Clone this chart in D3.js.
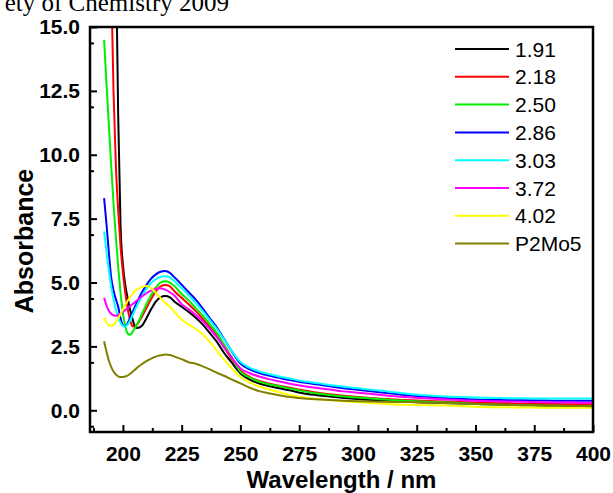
<!DOCTYPE html>
<head>
    <meta charset="utf-8" />
    <script src="https://d3js.org/d3.v7.min.js"></script>
    <style>
        body { margin: 0; background: #fff; }
        text { font-family: "Liberation Sans", Arial, sans-serif; }
    </style>
</head>
<body>
<script>
    var width = 613, height = 493;
    var margin = {top: 27, right: 20, bottom: 61, left: 90};

    // wavelength grid (nm)
    var wavelength = [192,193,194,195,196,197,198,199,200,201,202,203,204,205,206,208,210,212,214,216,218,220,222,225,228,231,234,237,240,243,246,250,254,258,262,266,271,276,282,288,294,300,310,320,330,340,350,360,370,380,390,400];

    // absorbance per sample
    var abs191 = [40,35,30,25,21,18,11.5,7.2,5.7,4.9,4.4,3.95,3.6,3.3,3.22,3.3,3.6,3.95,4.25,4.42,4.47,4.42,4.25,4.05,3.85,3.62,3.35,3.02,2.68,2.25,1.9,1.44,1.2,1.05,0.95,0.87,0.78,0.68,0.6,0.54,0.48,0.44,0.38,0.34,0.3,0.28,0.25,0.23,0.22,0.2,0.19,0.18];
    var abs218 = [35,28,22,17,12.5,9.6,7.8,6.4,5.4,4.6,4.0,3.55,3.3,3.27,3.35,3.65,4.0,4.35,4.65,4.85,4.9,4.85,4.65,4.4,4.15,3.88,3.58,3.25,2.9,2.47,2.05,1.55,1.3,1.15,1.05,0.97,0.88,0.79,0.7,0.63,0.57,0.52,0.45,0.4,0.36,0.33,0.3,0.28,0.26,0.25,0.24,0.23];
    var abs250 = [14.5,12.8,11.2,9.6,8.1,6.8,5.6,4.6,3.8,3.3,3.0,2.96,3.05,3.2,3.35,3.75,4.15,4.5,4.8,5.0,5.05,5.0,4.85,4.55,4.3,4.0,3.7,3.36,3.02,2.58,2.12,1.5,1.28,1.12,1.02,0.95,0.85,0.76,0.67,0.6,0.54,0.5,0.43,0.37,0.33,0.3,0.25,0.22,0.2,0.18,0.17,0.16];
    var abs286 = [8.3,7.3,6.2,5.2,4.7,4.35,4.05,3.6,3.33,3.28,3.4,3.6,3.82,4.03,4.23,4.6,4.9,5.15,5.32,5.42,5.45,5.38,5.2,4.92,4.62,4.33,3.98,3.6,3.24,2.8,2.35,1.83,1.6,1.46,1.36,1.28,1.18,1.1,1.02,0.94,0.86,0.8,0.7,0.6,0.52,0.46,0.42,0.4,0.39,0.38,0.37,0.37];
    var abs303 = [7.0,6.2,5.5,4.85,4.35,3.95,3.65,3.42,3.3,3.27,3.35,3.5,3.7,3.9,4.1,4.45,4.75,4.98,5.13,5.22,5.25,5.2,5.05,4.78,4.5,4.2,3.88,3.53,3.18,2.78,2.36,1.89,1.66,1.52,1.42,1.33,1.24,1.15,1.07,0.99,0.92,0.86,0.76,0.66,0.58,0.53,0.5,0.48,0.47,0.46,0.46,0.46];
    var abs372 = [4.4,4.1,3.9,3.78,3.72,3.7,3.72,3.78,3.85,3.93,4.0,4.08,4.15,4.22,4.3,4.45,4.58,4.68,4.76,4.78,4.72,4.62,4.48,4.15,3.95,3.73,3.48,3.18,2.85,2.48,2.1,1.64,1.45,1.32,1.22,1.14,1.04,0.96,0.88,0.81,0.74,0.69,0.6,0.52,0.46,0.41,0.37,0.35,0.33,0.31,0.3,0.29];
    var abs402 = [3.62,3.45,3.33,3.3,3.35,3.45,3.6,3.77,3.95,4.12,4.28,4.42,4.55,4.65,4.73,4.82,4.86,4.78,4.6,4.4,4.2,4.05,3.85,3.55,3.35,3.18,2.97,2.68,2.33,1.98,1.68,1.3,1.08,0.93,0.82,0.72,0.6,0.52,0.45,0.4,0.35,0.31,0.26,0.22,0.2,0.18,0.14,0.12,0.11,0.1,0.1,0.1];
    var absP2Mo5 = [2.7,2.3,1.95,1.7,1.52,1.4,1.33,1.3,1.3,1.32,1.36,1.42,1.5,1.58,1.66,1.8,1.92,2.02,2.1,2.15,2.18,2.16,2.1,2.0,1.88,1.82,1.72,1.6,1.47,1.35,1.22,1.05,0.88,0.75,0.67,0.6,0.52,0.47,0.43,0.4,0.37,0.35,0.33,0.32,0.3,0.28,0.25,0.22,0.2,0.18,0.17,0.16];

    var names = ["1.91","2.18","2.50","2.86","3.03","3.72","4.02","P2Mo5"];
    var colors = ["#000000","#ff0000","#00ee00","#0000ff","#00ffff","#ff00ff","#ffff00","#808000"];
    var values = [abs191, abs218, abs250, abs286, abs303, abs372, abs402, absP2Mo5];

    var xTicks = [200,225,250,275,300,325,350,375,400];
    var yTicks = [0,2.5,5,7.5,10,12.5,15];

    var svg = d3.select("body").append("svg")
        .attr("width", width)
        .attr("height", height);

    // bit of the page header that got cropped in (cut at the top like the scan)
    svg.append("text")
        .attr("x", 229).attr("y", 11)
        .attr("text-anchor", "end")
        .style("font-family", "'Liberation Serif', 'Times New Roman', serif")
        .style("font-size", "25px")
        .text("ety of Chemistry 2009");

    var x = d3.scaleLinear().domain([186, 400]).range([margin.left, width - margin.right]);
    var y = d3.scaleLinear().domain([-0.85, 15]).range([height - margin.bottom, margin.top]);

    svg.append("clipPath").attr("id", "plotclip")
        .append("rect")
        .attr("x", x(186)).attr("y", y(15))
        .attr("width", x(400) - x(186)).attr("height", y(-0.85) - y(15));

    var line = d3.line()
        .x(function(d) { return x(d[0]); })
        .y(function(d) { return y(d[1]); })
        .curve(d3.curveMonotoneX);

    var g = svg.append("g").attr("clip-path", "url(#plotclip)");
    values.forEach(function(v, i) {
        var pts = wavelength.map(function(w, j) { return [w, v[j]]; });
        g.append("path")
            .attr("d", line(pts))
            .attr("fill", "none")
            .attr("stroke", colors[i])
            .attr("stroke-width", 2);
    });

    // axes: ticks pointing inward
    var xAxis = d3.axisBottom(x).tickValues(xTicks).tickSize(-7).tickPadding(14).tickFormat(d3.format("d"));
    var xMinor = d3.axisBottom(x).tickValues(d3.range(187.5, 400, 25)).tickSize(-4).tickFormat("");
    var yAxis = d3.axisLeft(y).tickValues(yTicks).tickSize(-7).tickPadding(10).tickFormat(d3.format(".1f"));
    var yMinor = d3.axisLeft(y).tickValues(d3.range(-0.625, 15, 2.5)).tickSize(-4).tickFormat("");

    [xAxis, xMinor].forEach(function(a) {
        svg.append("g").attr("class", "axis")
            .attr("transform", "translate(0," + y(-0.85) + ")")
            .call(a);
    });
    [yAxis, yMinor].forEach(function(a) {
        svg.append("g").attr("class", "axis")
            .attr("transform", "translate(" + x(186) + ",0)")
            .call(a);
    });
    svg.selectAll(".axis .domain").remove();
    svg.selectAll(".axis line").attr("stroke", "#000").attr("stroke-width", 2);
    svg.selectAll(".axis text")
        .attr("fill", "#000")
        .style("font-size", "21px")
        .style("font-weight", "bold");

    // frame
    svg.append("rect")
        .attr("x", x(186)).attr("y", y(15))
        .attr("width", x(400) - x(186)).attr("height", y(-0.85) - y(15))
        .attr("fill", "none").attr("stroke", "#000").attr("stroke-width", 2.5);

    svg.append("text")
        .attr("x", (x(186) + x(400)) / 2).attr("y", 488)
        .attr("text-anchor", "middle")
        .style("font-size", "24px").style("font-weight", "bold")
        .text("Wavelength / nm");

    svg.append("text")
        .attr("transform", "translate(33,241) rotate(-90)")
        .attr("text-anchor", "middle")
        .style("font-size", "25px").style("font-weight", "bold")
        .text("Absorbance");

    // legend
    var leg = svg.append("g").selectAll("g").data(names).join("g")
        .attr("transform", function(d, i) { return "translate(455," + (49 + i * 27.8) + ")"; });
    leg.append("line")
        .attr("x1", 0).attr("x2", 54)
        .attr("stroke", function(d, i) { return colors[i]; })
        .attr("stroke-width", 2);
    leg.append("text")
        .attr("x", 60).attr("y", 7.5)
        .style("font-size", "21px")
        .text(function(d) { return d; });
</script>
</body>
